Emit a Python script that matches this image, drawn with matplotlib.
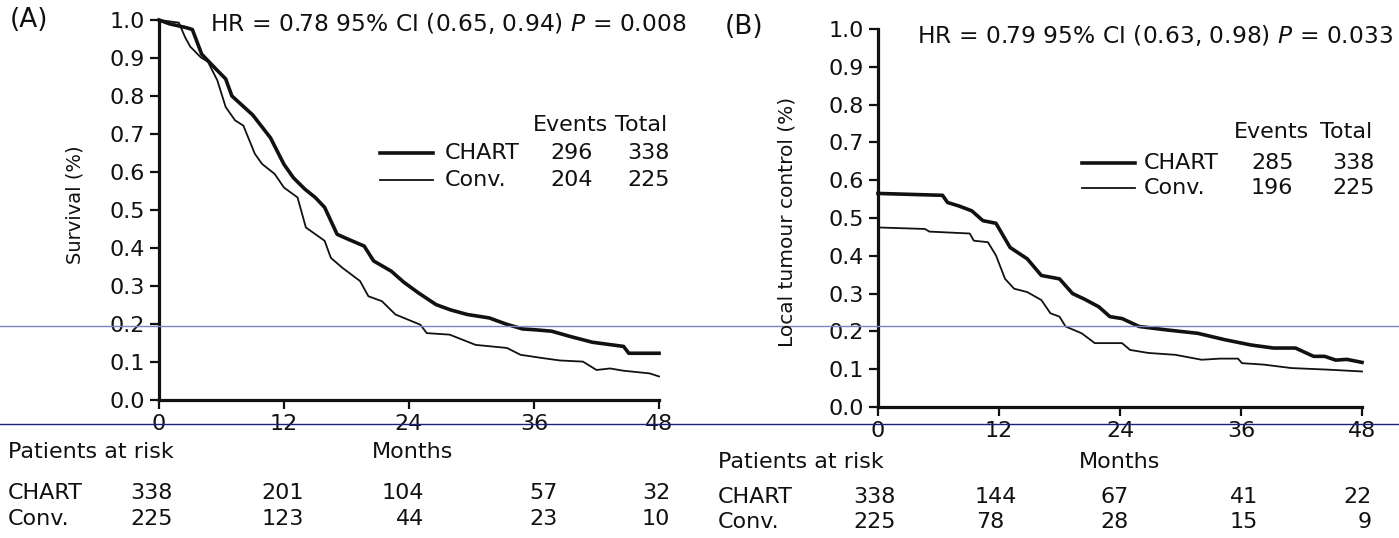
import matplotlib
matplotlib.use('Agg')
import matplotlib.pyplot as plt
from matplotlib.lines import Line2D
from matplotlib.ticker import FormatStrFormatter

plt.rcParams['font.family'] = 'DejaVu Sans'

W, H = 1399, 538

# ---- datos ----
# (A) supervivencia
a_chart_m = [0, 1.0, 2.6, 3.2, 4.1, 5.5, 6.4, 7.0, 7.4, 9.0, 10.7, 12.0, 12.9, 14.0, 15.0, 15.9,
             17.1, 18.0, 19.7, 20.6, 22.3, 23.5, 24.9, 26.6, 28.0, 29.6, 31.7, 33.3, 34.9, 36.0,
             37.7, 39.5, 41.6, 44.6, 45.1, 48.0]
a_chart_s = [1.0, 0.99, 0.98, 0.975, 0.91, 0.87, 0.845, 0.80, 0.79, 0.75, 0.69, 0.62, 0.585, 0.555,
             0.533, 0.507, 0.436, 0.425, 0.405, 0.366, 0.339, 0.31, 0.282, 0.251, 0.237, 0.225,
             0.216, 0.200, 0.187, 0.185, 0.181, 0.167, 0.152, 0.141, 0.123, 0.123]
a_conv_m = [0, 1.9, 2.5, 3.0, 4.0, 4.7, 5.6, 6.4, 7.3, 8.1, 9.2, 9.9, 11.1, 12.0, 13.3, 14.1, 15.9,
            16.5, 17.6, 19.3, 20.1, 21.4, 22.7, 25.1, 25.7, 27.9, 30.4, 33.4, 34.7, 36.9, 38.5,
            40.7, 42.0, 43.3, 44.6, 47.1, 48.0]
a_conv_s = [1.0, 0.993, 0.955, 0.93, 0.902, 0.89, 0.841, 0.771, 0.736, 0.722, 0.648, 0.621, 0.595,
            0.559, 0.533, 0.454, 0.419, 0.374, 0.348, 0.313, 0.273, 0.260, 0.225, 0.198, 0.176,
            0.172, 0.145, 0.137, 0.119, 0.110, 0.104, 0.101, 0.079, 0.083, 0.077, 0.070, 0.062]

# (B) control local
b_chart_m = [0, 6.4, 6.9, 8.0, 9.3, 10.4, 11.7, 13.1, 14.8, 16.2, 18.0, 19.3, 20.5, 21.9, 23.0, 24.2,
             25.9, 28.6, 31.7, 34.4, 37.0, 39.2, 41.4, 43.2, 44.3, 45.4, 46.5, 48.0]
b_chart_s = [0.565, 0.560, 0.541, 0.532, 0.519, 0.493, 0.486, 0.422, 0.392, 0.348, 0.339, 0.300,
             0.285, 0.265, 0.239, 0.234, 0.213, 0.204, 0.195, 0.178, 0.164, 0.156, 0.156, 0.134,
             0.134, 0.124, 0.126, 0.118]
b_conv_m = [0, 4.65, 5.1, 9.1, 9.5, 10.9, 11.7, 12.6, 13.5, 14.8, 16.2, 17.1, 18.0, 18.6, 20.2, 21.5,
            24.2, 25.0, 26.8, 29.5, 32.1, 33.9, 35.7, 36.1, 38.3, 41.0, 44.5, 48.0]
b_conv_s = [0.475, 0.471, 0.464, 0.459, 0.440, 0.436, 0.401, 0.339, 0.313, 0.304, 0.283, 0.248,
            0.239, 0.213, 0.195, 0.169, 0.169, 0.151, 0.143, 0.138, 0.125, 0.128, 0.128, 0.116,
            0.112, 0.103, 0.099, 0.094]

xticks = [0, 12, 24, 36, 48]
yticks = [0.0, 0.1, 0.2, 0.3, 0.4, 0.5, 0.6, 0.7, 0.8, 0.9, 1.0]

a_events = [296, 204]
b_events = [285, 196]
totals = [338, 225]
grupos = ['CHART', 'Conv.']
a_risk_chart = [338, 201, 104, 57, 32]
a_risk_conv = [225, 123, 44, 23, 10]
b_risk_chart = [338, 144, 67, 41, 22]
b_risk_conv = [225, 78, 28, 15, 9]


fig = plt.figure(figsize=(W / 100, H / 100), dpi=100)


def px(x, y):
    return x / W, 1 - y / H


def texto(x, y, s, size=16, ha='left', **kw):
    fx, fy = px(x, y)
    fig.text(fx, fy, s, fontsize=size, ha=ha, va='center', color='#111111', **kw)


def panel(rect, chart_m, chart_s, conv_m, conv_s, ylabel):
    ax = fig.add_axes(rect)
    ax.plot(chart_m, chart_s, color='#111111', lw=2.6, clip_on=False, solid_joinstyle='round')
    ax.plot(conv_m, conv_s, color='#111111', lw=1.3, clip_on=False)
    ax.set_xlim(0, 48)
    ax.set_ylim(0, 1)
    ax.set_xticks(xticks)
    ax.set_yticks(yticks)
    ax.yaxis.set_major_formatter(FormatStrFormatter('%.1f'))
    for s in ['top', 'right']:
        ax.spines[s].set_visible(False)
    for s in ['left', 'bottom']:
        ax.spines[s].set_linewidth(2.3)
        ax.spines[s].set_color('#111111')
    ax.tick_params(axis='both', direction='out', length=6.5, width=1.6, color='#111111',
                   labelsize=16, pad=3.5, labelcolor='#111111')
    ax.set_facecolor('none')
    return ax


axA = panel([159 / W, 1 - 400 / H, 500 / W, 380 / H], a_chart_m, a_chart_s, a_conv_m, a_conv_s, 'Survival (%)')
axB = panel([878 / W, 1 - 407 / H, 484 / W, 378 / H], b_chart_m, b_chart_s, b_conv_m, b_conv_s,
            'Local tumour control (%)')

# etiquetas de eje y
fx, fy = px(75, 205)
fig.text(fx, fy, 'Survival (%)', rotation=90, fontsize=14, ha='center', va='center', color='#111111')
fx, fy = px(787, 222)
fig.text(fx, fy, 'Local tumour control (%)', rotation=90, fontsize=14.5, ha='center', va='center',
         color='#111111')

# letras de panel y HR
texto(10, 20, '(A)', size=19)
texto(725, 27, '(B)', size=19)
texto(210, 24, 'HR = 0.78 95% CI (0.65, 0.94) $P$ = 0.008', size=16.8)
texto(917, 36, 'HR = 0.79 95% CI (0.63, 0.98) $P$ = 0.033', size=16.8)

# leyendas
def leyenda(x_linea, x_grupo, x_ev, x_tot, y_head, y_rows, events):
    texto(x_ev - 17, y_head, 'Events')
    texto(x_tot - 12, y_head, 'Total')
    for i, g in enumerate(grupos):
        y = y_rows[i]
        lw = 2.6 if i == 0 else 1.3
        x0, yy = px(x_linea[0], y)
        x1, _ = px(x_linea[1], y)
        fig.add_artist(Line2D([x0, x1], [yy, yy], transform=fig.transFigure, color='#111111', lw=lw))
        texto(x_grupo, y, g)
        texto(x_ev, y, str(events[i]))
        texto(x_tot, y, str(totals[i]))


leyenda((380, 433), 445, 550, 627, 125, (153, 180), a_events)
leyenda((1082, 1135), 1144, 1251, 1332, 132, (163, 188), b_events)

# tabla de pacientes en riesgo
def riesgo(x_left, y_head, x_months, y_rows, x_right, chart, conv):
    texto(x_left, y_head, 'Patients at risk')
    texto(x_months, y_head, 'Months', ha='center')
    for i, (g, fila) in enumerate(zip(grupos, [chart, conv])):
        y = y_rows[i]
        texto(x_left, y, g)
        for xr, n in zip(x_right[i], fila):
            texto(xr, y, str(n), ha='right')


riesgo(8, 452, 413, (493, 519),
       ([173, 304, 424, 558, 670], [173, 304, 424, 558, 670]), a_risk_chart, a_risk_conv)
riesgo(718, 462, 1120, (497, 522),
       ([896, 1017, 1129, 1258, 1372], [896, 1004, 1129, 1258, 1372]), b_risk_chart, b_risk_conv)

# lineas azules del escaneo
for y, c in [(326, '#7f82c4'), (424, '#1a1f80')]:
    fy = 1 - y / H
    fig.add_artist(Line2D([0, 1], [fy, fy], transform=fig.transFigure, color=c, lw=1.0))

plt.savefig('out.png', dpi=100)
plt.close()
